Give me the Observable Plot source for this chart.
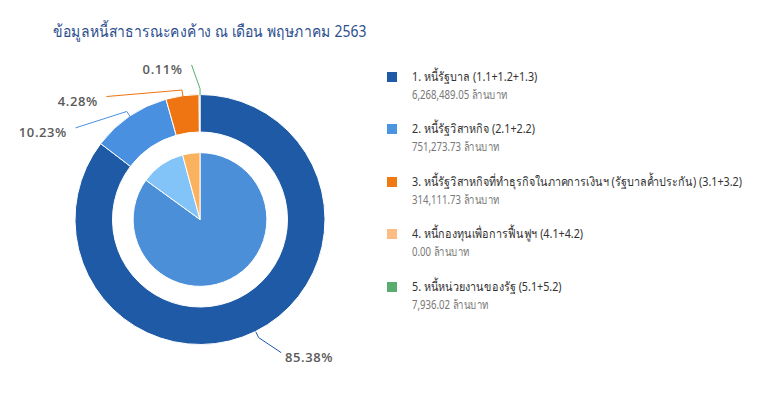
<!DOCTYPE html>
<html><head><meta charset="utf-8">
<script src="https://cdn.jsdelivr.net/npm/d3@7"></script>
<script src="https://cdn.jsdelivr.net/npm/@observablehq/plot@0.6"></script>
<style>
body{margin:0;background:#fff;font-family:"Noto Sans","Open Sans",sans-serif;}
#wrap{position:relative;width:768px;height:399px;overflow:hidden;background:#fff;}
#title{position:absolute;left:53px;top:19px;font-size:16px;color:#2d4f8e;white-space:nowrap;transform:scaleX(0.87);transform-origin:0 50%;}
#chart{position:absolute;left:0;top:50px;}
#legend{position:absolute;left:386px;top:0;width:380px;height:399px;}
.item{position:absolute;left:0;white-space:nowrap;}
.sw{position:absolute;left:1px;width:10px;height:10px;}
.name{position:absolute;left:26px;font-size:12.5px;color:#333;line-height:16px;transform:scaleX(0.86);transform-origin:0 50%;}
.val{position:absolute;left:26px;font-size:12px;color:#777;line-height:16px;transform:scaleX(0.8);transform-origin:0 50%;}
</style></head>
<body>
<div id="wrap">
  <div id="title"></div>
  <div id="chart"></div>
  <div id="legend"></div>
</div>
<script>
// ---- data ----
const titleText = "ข้อมูลหนี้สาธารณะคงค้าง ณ เดือน พฤษภาคม 2563";
const categories = [
  "1. หนี้รัฐบาล (1.1+1.2+1.3)",
  "2. หนี้รัฐวิสาหกิจ (2.1+2.2)",
  "3. หนี้รัฐวิสาหกิจที่ทำธุรกิจในภาคการเงินฯ (รัฐบาลค้ำประกัน) (3.1+3.2)",
  "4. หนี้กองทุนเพื่อการฟื้นฟูฯ (4.1+4.2)",
  "5. หนี้หน่วยงานของรัฐ (5.1+5.2)"
];
const outerValues = [6268489.05, 751273.73, 314111.73, 0.00, 7936.02];
const unitLabel = "ล้านบาท";
const innerValues = [85.0, 10.8, 4.2];

// ---- styles ----
const outerColors = ["#1f5aa6", "#4a90e0", "#ee7512", "#fcbd84", "#5aab6e"];
const legendColors = ["#1f5aa8", "#4a94e0", "#ef7a14", "#fcbd84", "#5aad70"];
const innerColors = ["#4c8fd9", "#82c3f8", "#fbb25e"];

document.getElementById("title").textContent = titleText;

const total = d3.sum(outerValues);
const outerData = categories.map((c, i) => ({name: c, value: outerValues[i], color: outerColors[i]}));
const innerData = innerValues.map((v, i) => ({value: v, color: innerColors[i]}));
const pie = d3.pie().sort(null).value(d => d.value);
const outerArcs = pie(outerData);
const innerArcs = pie(innerData);

// geometry in radius units (outer radius = 1)
const R_OUT = 1, R_IN = 0.70, R_PIE = 0.535, R_LAB = 1.24, R_BEND = 1.05;
const GAP = 0.25, TOPCLAMP = 1.198, BOTCLAMP = -1.1, DY = 0.04;

// label layout
const labs = outerArcs.filter(a => a.data.value > 0).map(a => {
  const m = (a.startAngle + a.endAngle) / 2;
  return {arc: a, m, side: Math.sin(m) < 0 ? "left" : "right",
          ideal: R_LAB * Math.cos(m) - DY,
          text: d3.format(".2f")(a.data.value / total * 100) + "%",
          color: a.data.color};
});
const left = labs.filter(d => d.side === "left").sort((a, b) => b.ideal - a.ideal);
let prev = Infinity;
for (const d of left) { d.y = Math.min(d.ideal, prev - GAP, TOPCLAMP); prev = d.y; }
const right = labs.filter(d => d.side === "right").sort((a, b) => a.ideal - b.ideal);
prev = -Infinity;
for (const d of right) { d.y = Math.max(d.ideal, prev + GAP, BOTCLAMP); prev = d.y; }
for (const d of labs) {
  d.ye = d.y + DY;
  const s = d.side === "left" ? -1 : 1;
  d.xe = s * Math.sqrt(Math.max(0, R_LAB * R_LAB - d.ye * d.ye));
  d.tx = d.side === "left" ? d.xe - 0.072 : d.xe + 0.032;
}
const connectors = labs.flatMap((d, i) => [
  {k: i, x: Math.sin(d.m) * R_OUT, y: Math.cos(d.m) * R_OUT, c: d.color},
  {k: i, x: Math.sin(d.m) * R_BEND, y: Math.cos(d.m) * R_BEND, c: d.color},
  {k: i, x: d.xe, y: d.ye, c: d.color}
]);

function arcMark(arcs, r0, r1) {
  return (index, scales) => {
    const cx = scales.x(0), cy = scales.y(0), k = scales.x(1) - scales.x(0);
    const g = d3.create("svg:g").attr("transform", `translate(${cx},${cy})`);
    const arc = d3.arc().innerRadius(r0 * k).outerRadius(r1 * k);
    g.selectAll("path").data(arcs.filter(a => a.data.value > 0)).join("path")
      .attr("d", arc).attr("fill", a => a.data.color)
      .attr("stroke", "#fff").attr("stroke-width", 1).attr("stroke-linejoin", "round");
    return g.node();
  };
}

const labelStyle = {fontSize: 13, fontWeight: 600, fill: "#5a5a5a",
  fontFamily: "'Open Sans', 'Noto Sans', sans-serif"};

const chart = Plot.plot({
  width: 370, height: 349, margin: 0,
  x: {domain: [-1.6, 1.36], axis: null},
  y: {domain: [-1.436, 1.356], axis: null},
  color: {type: "identity"},
  marks: [
    arcMark(outerArcs, R_IN, R_OUT),
    arcMark(innerArcs, 0, R_PIE),
    Plot.line(connectors, {x: "x", y: "y", z: "k", stroke: "c", strokeWidth: 1}),
    Plot.text(labs.filter(d => d.side === "left"), {x: "tx", y: "y", text: "text", textAnchor: "end", ...labelStyle}),
    Plot.text(labs.filter(d => d.side === "right"), {x: "tx", y: "y", text: "text", textAnchor: "start", ...labelStyle})
  ]
});
chart.style.letterSpacing = "0.6px";
document.getElementById("chart").appendChild(chart);

// legend
const fmt = d3.format(",.2f");
const legend = d3.select("#legend");
const STEP = 52.4;
categories.forEach((c, i) => {
  const top = 69 + i * STEP;
  const it = legend.append("div").attr("class", "item").style("top", top + "px");
  it.append("div").attr("class", "sw").style("top", "3px").style("background", legendColors[i]);
  it.append("div").attr("class", "name").style("top", "0px").text(c);
  it.append("div").attr("class", "val").style("top", "18px").text(fmt(outerValues[i]) + " " + unitLabel);
});
</script>
</body></html>
